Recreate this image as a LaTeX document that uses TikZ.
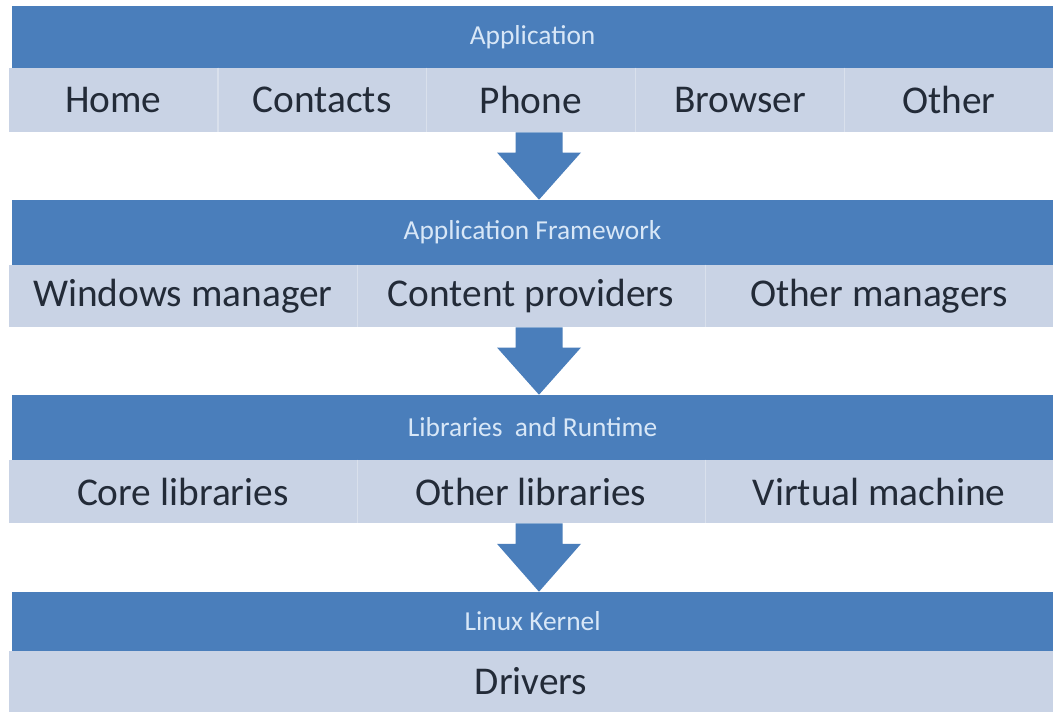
\documentclass[tikz,border=0pt]{standalone}
\usepackage{fontspec}
\setmainfont{Carlito}
\usetikzlibrary{calc}
\definecolor{bandblue}{HTML}{4A7EBB}
\definecolor{bandtxt}{HTML}{D8E7F7}
\definecolor{cellfill}{HTML}{C9D3E5}
\definecolor{cellline}{HTML}{D9E0EC}
\definecolor{ink}{HTML}{232B38}
\tikzset{
  band/.style={fill=bandblue,minimum width=26.03cm,inner sep=0,font=\fontsize{19.5}{23}\selectfont,text=bandtxt},
  cell/.style={fill=cellfill,inner sep=0,font=\fontsize{28}{33}\selectfont,text=ink},
  sep/.style={draw=cellline,line width=0.8pt},
  barrow/.style={fill=bandblue}
}
\newcommand{\blockarr}[2]{%
  \fill[barrow] let \p1=(#1.south), \p2=($(#2.north)+(0.16,0)$), \n1={0.3*(\y2-\y1)} in
    (\x2-0.5875cm,\y1) -- (\x2+0.5875cm,\y1) -- (\x2+0.5875cm,\y1+\n1) -- (\x2+1.05cm,\y1+\n1)
    -- (\x2,\y2) -- (\x2-1.05cm,\y1+\n1) -- (\x2-0.5875cm,\y1+\n1) -- cycle;}

\begin{document}
\begin{tikzpicture}[x=1cm,y=1cm]
\useasboundingbox[fill=white] (0,0) rectangle (26.575,17.8);
% ---------------- application ----------------
\node[band,minimum height=1.55cm] (app) at (13.315,16.875) {Application};
\foreach \t [count=\i] in {Home,Contacts,Phone,Browser,Other}
  \node[cell,minimum width=5.222cm,minimum height=1.6cm] (app\i) at ({0.22+(\i-0.5)*5.222},15.3) {\t};
\foreach \i in {1,...,4} \draw[sep] (app\i.north east) -- (app\i.south east);
% ---------------- framework ----------------
\node[band,minimum height=1.625cm] (fw) at (13.315,11.9875) {Application Framework};
\foreach \t [count=\i] in {Windows manager,Content providers,Other managers}
  \node[cell,minimum width=8.703cm,minimum height=1.55cm] (fw\i) at ({0.22+(\i-0.5)*8.703},10.4) {\t};
\foreach \i in {1,2} \draw[sep] (fw\i.north east) -- (fw\i.south east);
% ---------------- libraries ----------------
\node[band,minimum height=1.625cm] (lib) at (13.315,7.1125) {Libraries\ \ and Runtime};
\foreach \t [count=\i] in {Core libraries,Other libraries,Virtual machine}
  \node[cell,minimum width=8.703cm,minimum height=1.575cm] (lib\i) at ({0.22+(\i-0.5)*8.703},5.5125) {\t};
\foreach \i in {1,2} \draw[sep] (lib\i.north east) -- (lib\i.south east);
% ---------------- kernel ----------------
\node[band,minimum height=1.475cm] (kern) at (13.315,2.2625) {Linux Kernel};
\node[cell,minimum width=26.11cm,minimum height=1.525cm] (drv) at (13.275,0.7625) {Drivers};
% ---------------- arrows ----------------
\blockarr{app3}{fw}
\blockarr{fw2}{lib}
\blockarr{lib2}{kern}
\end{tikzpicture}
\end{document}
